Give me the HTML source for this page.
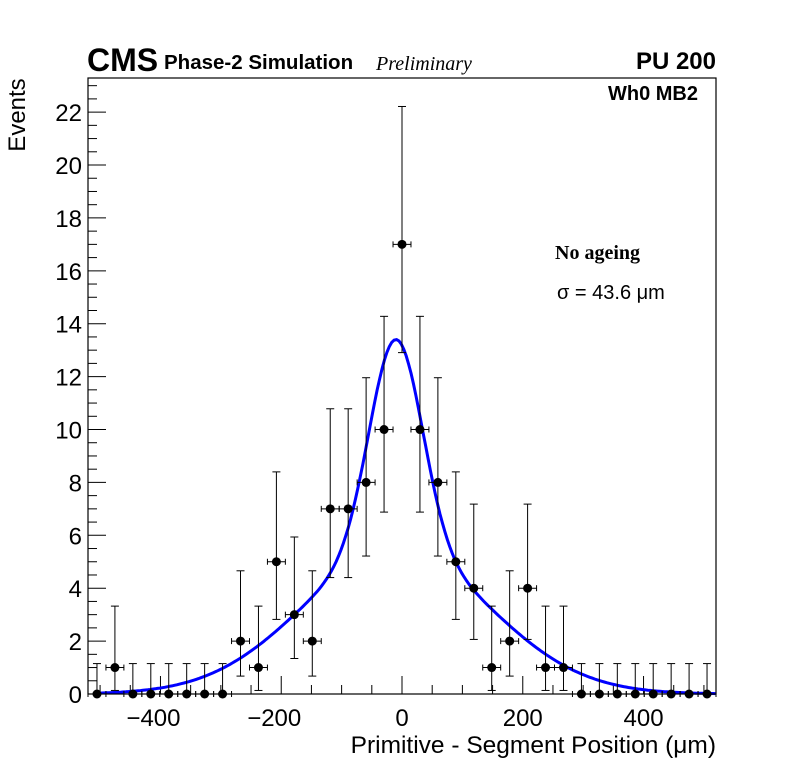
<!DOCTYPE html>
<html><head><meta charset="utf-8"><style>
html,body{margin:0;padding:0;background:#fff;}
svg{display:block;font-family:"Liberation Sans",sans-serif;}
</style></head><body>
<svg id="chart" width="796" height="772">
<rect width="796" height="772" fill="#fff"/>
<text x="87" y="71" font-size="32" font-weight="bold">CMS</text>
<text x="164" y="69" font-size="20.5" font-weight="bold">Phase-2 Simulation</text>
<text x="376" y="70" font-size="20" font-style="italic" font-family="Liberation Serif,serif">Preliminary</text>
<text x="716" y="69" font-size="24" font-weight="bold" text-anchor="end">PU 200</text>
<text x="698" y="100" font-size="20" font-weight="bold" text-anchor="end">Wh0 MB2</text>
<text x="555" y="259" font-size="20" font-weight="bold" font-family="Liberation Serif,serif">No ageing</text>
<text x="557" y="299" font-size="20">σ = 43.6 μm</text>
<text x="25" y="115" font-size="24" text-anchor="middle" transform="rotate(-90 25 115)">Events</text>
<text x="716" y="753" font-size="24.5" text-anchor="end">Primitive - Segment Position (μm)</text>
<g id="axes"></g>
<g id="curve"></g>
<g id="points"></g>
<rect x="88" y="78" width="628" height="616" fill="none" stroke="#000" stroke-width="1.2"/>
</svg>
<script>
const counts = [0,1,0,0,0,0,0,0,2,1,5,3,2,7,7,8,10,17,10,8,5,4,1,2,4,1,1,0,0,0,0,0,0,0,0];
const xTicks = [-400,-200,0,200,400];
const yTicks = [0,2,4,6,8,10,12,14,16,18,20,22];
const fitParams = [8, 43.6, 5.4, 155, -10]; // core amp, core sigma, wide amp, wide sigma, mean
const XMIN=-520, XMAX=520, YMAX=23.29;
const L=88,R=716,T=78,B=694;
const sx=v=>L+(v-XMIN)/(XMAX-XMIN)*(R-L);
const sy=v=>B-v/YMAX*(B-T);
const NS='http://www.w3.org/2000/svg';
function mk(tag,attrs,parent){const e=document.createElementNS(NS,tag);for(const k in attrs)e.setAttribute(k,attrs[k]);parent.appendChild(e);return e;}
const axes=document.getElementById('axes');
for(let v=-500;v<=500;v+=50){
  const major=v%200===0;
  const t=mk('line',{x1:sx(v),x2:sx(v),y1:B,y2:B-(major?18:9),stroke:'#000','stroke-width':1},axes);
  
  
}
xTicks.forEach(v=>{
  const t=mk('text',{x:sx(v)-(v<0?7:0),y:726,'font-size':24,'text-anchor':'middle'},axes);
  t.textContent=v<0?'\u2212'+Math.abs(v):String(v);
  
  
});
for(let v=0;v<=23;v+=0.5){
  const major=v%2===0;
  const t=mk('line',{x1:L,x2:L+(major?18:9),y1:sy(v),y2:sy(v),stroke:'#000','stroke-width':1},axes);
  
  
}
yTicks.forEach(v=>{
  const t=mk('text',{x:82,y:sy(v)+9,'font-size':24,'text-anchor':'end'},axes);
  t.textContent=String(v);
  
  
});
const [a1,s1,a2,s2,mu]=fitParams;
let d='';
for(let x=-505;x<=520;x+=4){
  const y=a1*Math.exp(-0.5*((x-mu)/s1)**2)+a2*Math.exp(-0.5*((x-mu)/s2)**2);
  d+=(d?'L':'M')+sx(x).toFixed(1)+','+sy(y).toFixed(1);
}
const c=mk('path',{d:d,fill:'none',stroke:'#0000ff','stroke-width':3},document.getElementById('curve'));


const pts=document.getElementById('points');
const bw=(XMAX-XMIN)/counts.length;
counts.forEach((n,i)=>{
  const xc=XMIN+(i+0.5)*bw;
  const px=sx(xc), py=sy(n);
  const up=n===0?1.15:n+Math.sqrt(n+0.75)+1;
  const lo=n===0?0:Math.max(0,n-Math.sqrt(n-0.25));
  const g=mk('g',{},pts);
  
  
  mk('line',{x1:px,x2:px,y1:sy(up),y2:sy(lo),stroke:'#000','stroke-width':1},g);
  mk('line',{x1:px-4,x2:px+4,y1:sy(up),y2:sy(up),stroke:'#000','stroke-width':1},g);
  if(n>0)mk('line',{x1:px-4,x2:px+4,y1:sy(lo),y2:sy(lo),stroke:'#000','stroke-width':1},g);
  mk('line',{x1:sx(xc-bw/2),x2:sx(xc+bw/2),y1:py,y2:py,stroke:'#000','stroke-width':1},g);
  mk('line',{x1:sx(xc-bw/2),x2:sx(xc-bw/2),y1:py-3,y2:py+3,stroke:'#000','stroke-width':1},g);
  mk('line',{x1:sx(xc+bw/2),x2:sx(xc+bw/2),y1:py-3,y2:py+3,stroke:'#000','stroke-width':1},g);
  mk('circle',{cx:px,cy:py,r:4.5,fill:'#000'},g);
});
</script>
</body></html>
